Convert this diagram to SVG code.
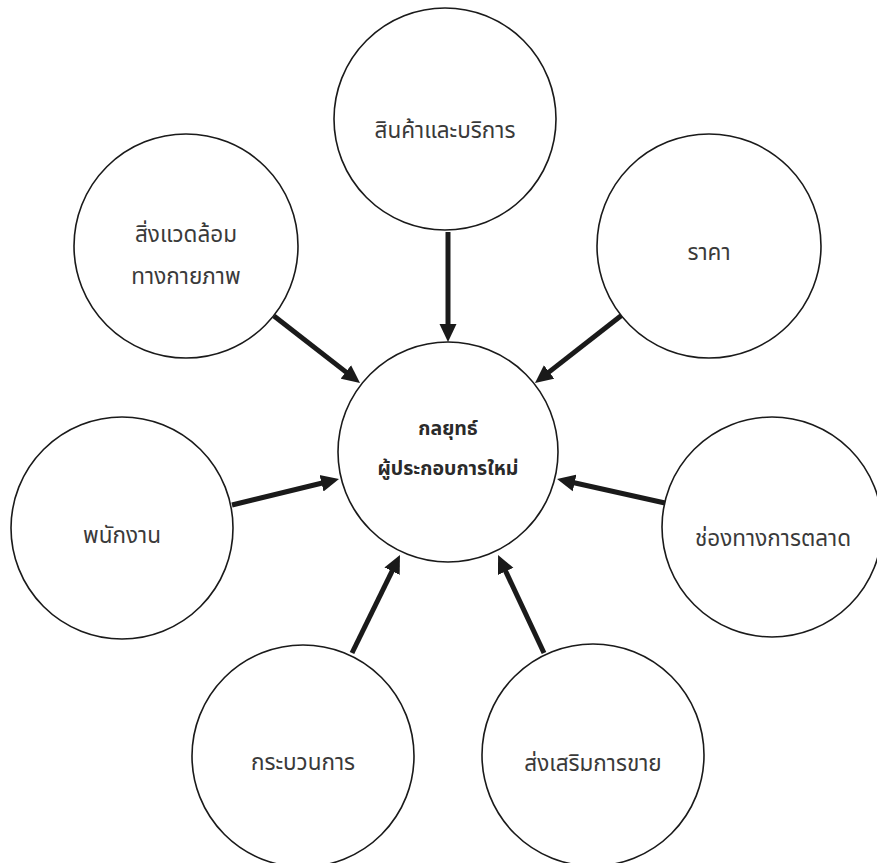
<svg xmlns="http://www.w3.org/2000/svg" width="877" height="863" viewBox="0 0 877 863">
<style>
.c{fill:#fff;stroke:#1a1a1a;stroke-width:1.6}
.t{font-family:"Noto Sans Thai","Noto Sans","Loma","Garuda","Tlwg Typo",sans-serif;font-size:22.5px;fill:#3a3a3a;text-anchor:middle}
.b{font-weight:bold;font-size:19.5px;fill:#2a2a2a}
.a{stroke:#1a1a1a;stroke-width:5;fill:none;marker-end:url(#ah)}
</style>
<defs>
<marker id="ah" markerUnits="userSpaceOnUse" markerWidth="20" markerHeight="18" refX="4" refY="8.5" orient="auto" viewBox="0 0 20 17">
<path d="M0,0 L18,8.5 L0,17 z" fill="#1a1a1a"/>
</marker>
</defs>
<rect width="877" height="863" fill="#fff"/>
<g id="connectors">
<line class="a" x1="448" y1="232" x2="448" y2="328"/>
<line class="a" x1="274" y1="316" x2="349" y2="374.4"/>
<line class="a" x1="622" y1="315" x2="546" y2="374.4"/>
<line class="a" x1="232" y1="505" x2="325.4" y2="482.3"/>
<line class="a" x1="665" y1="503" x2="570.7" y2="482"/>
<line class="a" x1="352" y1="653" x2="393.8" y2="567.6"/>
<line class="a" x1="544" y1="653" x2="504" y2="567.7"/>
</g>
<g id="center">
<circle class="c" cx="448" cy="452" r="110"/>
<text class="t b" x="448" y="435">กลยุทธ์</text>
<text class="t b" x="448" y="475">ผู้ประกอบการใหม่</text>
</g>
<g id="product">
<circle class="c" cx="445" cy="119" r="111"/>
<text class="t" x="445" y="138">สินค้าและบริการ</text>
</g>
<g id="physical">
<circle class="c" cx="186" cy="246" r="112"/>
<text class="t" x="186" y="242">สิ่งแวดล้อม</text>
<text class="t" x="186" y="284">ทางกายภาพ</text>
</g>
<g id="price">
<circle class="c" cx="709" cy="246" r="112"/>
<text class="t" x="709" y="260">ราคา</text>
</g>
<g id="people">
<circle class="c" cx="122" cy="528" r="111"/>
<text class="t" x="122" y="543">พนักงาน</text>
</g>
<g id="place">
<circle class="c" cx="772" cy="527" r="110"/>
<text class="t" x="773" y="546">ช่องทางการตลาด</text>
</g>
<g id="process">
<circle class="c" cx="303" cy="756" r="111"/>
<text class="t" x="303" y="770">กระบวนการ</text>
</g>
<g id="promotion">
<circle class="c" cx="593" cy="755" r="111"/>
<text class="t" x="593" y="771">ส่งเสริมการขาย</text>
</g>
</svg>
